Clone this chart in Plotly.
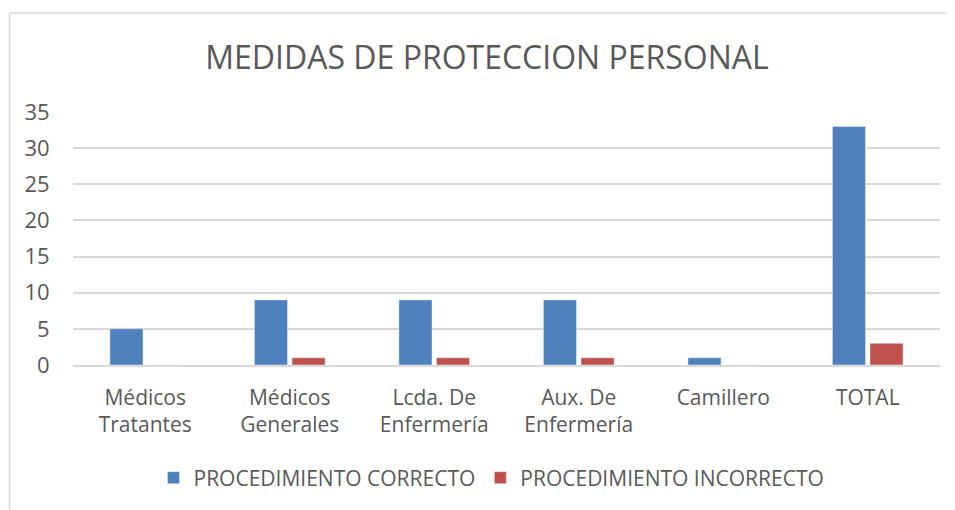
import plotly.graph_objects as go

categories = ["Médicos<br>Tratantes", "Médicos<br>Generales", "Lcda. De<br>Enfermería",
              "Aux. De<br>Enfermería", "Camillero", "TOTAL"]
correcto = [5, 9, 9, 9, 1, 33]
incorrecto = [0, 1, 1, 1, 0, 3]
y_ticks = [0, 5, 10, 15, 20, 25, 30, 35]

TXT = "#595959"
FONT = "Open Sans"

fig = go.Figure()
fig.add_trace(go.Bar(x=categories, y=correcto, name="PROCEDIMIENTO CORRECTO",
                     marker=dict(color="#4F81BD")))
fig.add_trace(go.Bar(x=categories, y=incorrecto, name="PROCEDIMIENTO INCORRECTO",
                     marker=dict(color="#C0504D")))

# page body has an 8px margin, so the figure is 8px smaller and everything shifted
OFF = 8
W, H = 955 - OFF, 510 - OFF
ml, mr, mt, mb = 73 - OFF, 15, 112 - OFF, 145
pw = W - ml - mr
ph = H - mt - mb

bx = 9.5 - OFF   # left frame line (figure px)
by = 13 - OFF    # top frame line

fig.update_layout(
    width=W, height=H,
    margin=dict(l=ml, r=mr, t=mt, b=mb),
    paper_bgcolor="white", plot_bgcolor="white",
    font=dict(family=FONT, color=TXT, size=21),
    barmode="group", bargap=0.48, bargroupgap=0.12,
    title=dict(text="MEDIDAS DE PROTECCION PERSONAL", x=(487 - OFF) / W, xanchor="center",
               y=1 - (58 - OFF) / H, yanchor="middle",
               font=dict(family=FONT, size=32, color=TXT)),
    showlegend=True,
    legend=dict(orientation="h", x=0.5 - 15 / pw, xanchor="center",
                y=-(478 - OFF - (mt + ph)) / ph,
                yanchor="middle", font=dict(size=21, color=TXT),
                itemwidth=30, tracegroupgap=0),
    xaxis=dict(showgrid=False, showline=True, linecolor="#D9D9D9", linewidth=1.5,
               ticks="outside", ticklen=13, tickcolor="rgba(0,0,0,0)",
               tickfont=dict(size=21, color=TXT), fixedrange=True),
    yaxis=dict(range=[0, 35], tickvals=y_ticks, showgrid=True, gridcolor="#D9D9D9",
               gridwidth=1.5, zeroline=False, showline=False,
               ticks="outside", ticklen=18, tickcolor="rgba(0,0,0,0)",
               tickfont=dict(size=22, color=TXT), fixedrange=True),
    shapes=[
        dict(type="line", xref="paper", yref="paper",
             x0=-(ml - bx) / pw, x1=-(ml - bx) / pw, y0=1 + (mt - by) / ph, y1=-(mb + 5) / ph,
             line=dict(color="#D9D9D9", width=1.5)),
        dict(type="line", xref="paper", yref="paper",
             x0=-(ml - bx) / pw, x1=1 + (mr + 5) / pw, y0=1 + (mt - by) / ph, y1=1 + (mt - by) / ph,
             line=dict(color="#D9D9D9", width=1.5)),
    ],
)

fig.write_html("out.html")
